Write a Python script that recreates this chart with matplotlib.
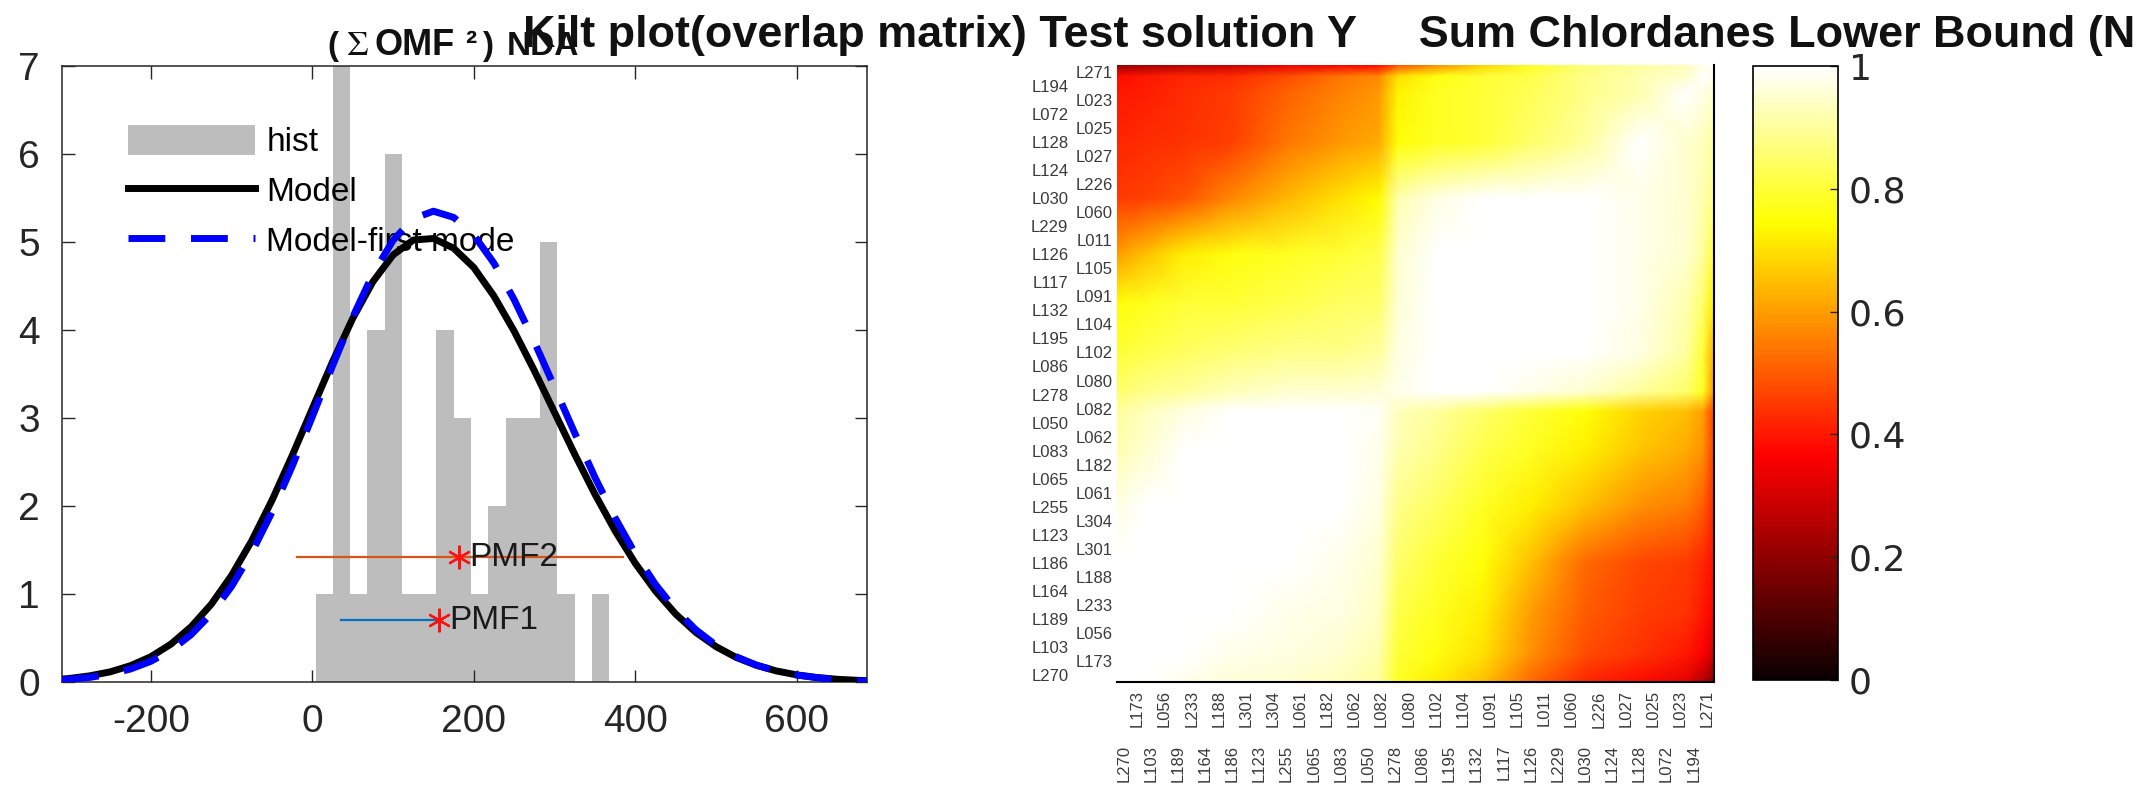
import numpy as np
import matplotlib
matplotlib.use('Agg')
import matplotlib.pyplot as plt
from matplotlib.patches import Patch
from matplotlib.lines import Line2D

plt.rcParams['font.family'] = ['Liberation Sans', 'DejaVu Sans']
plt.rcParams['mathtext.fontset'] = 'stix'
plt.rcParams['axes.unicode_minus'] = False

# ---------------- left panel data ----------------
hist_bin_centers = [14.7, 36.1, 57.5, 78.9, 100.3, 121.7, 143.1, 164.5, 185.9,
                    207.3, 228.7, 250.1, 271.5, 292.9, 314.3, 335.7, 357.1]
hist_bin_width = 21.4
hist_counts = [1, 7, 1, 4, 6, 1, 1, 4, 3, 1, 2, 3, 3, 5, 1, 0, 1]

model_x = [-310, -300, -275, -250, -225, -200, -175, -150, -125, -100, -75, -50,
           -25, 0, 25, 50, 75, 100, 125, 150, 175, 200, 225, 250, 275, 300, 325,
           350, 375, 400, 425, 450, 475, 500, 525, 550, 575, 600, 625, 650, 675, 687]
model_y = [0.033, 0.041, 0.071, 0.116, 0.186, 0.287, 0.431, 0.628, 0.885, 1.211,
           1.605, 2.063, 2.571, 3.106, 3.638, 4.131, 4.548, 4.853, 5.022, 5.04,
           4.93, 4.71, 4.385, 3.987, 3.538, 3.063, 2.588, 2.135, 1.718, 1.349,
           1.034, 0.773, 0.564, 0.402, 0.279, 0.190, 0.125, 0.081, 0.051, 0.031,
           0.019, 0.015]
first_mode_y = [0.024, 0.031, 0.053, 0.090, 0.148, 0.235, 0.361, 0.539, 0.777,
                1.086, 1.471, 1.929, 2.450, 3.014, 3.591, 4.146, 4.635, 5.019,
                5.265, 5.35, 5.28, 5.079, 4.759, 4.345, 3.865, 3.350, 2.829,
                2.327, 1.866, 1.457, 1.109, 0.822, 0.594, 0.418, 0.287, 0.192,
                0.125, 0.079, 0.049, 0.029, 0.017, 0.013]

pmf_names = ['PMF1', 'PMF2']
pmf_center = [157, 182]
pmf_low = [35, -19]
pmf_high = [157, 385]
pmf_level = [0.70, 1.42]
pmf_colors = ['#0072BD', '#D95319']

legend_labels = ['hist', 'Model', 'Model-first mode']

# ---------------- kilt (overlap matrix) data ----------------
sample_labels = ['L270', 'L173', 'L103', 'L056', 'L189', 'L233', 'L164', 'L188',
                 'L186', 'L301', 'L123', 'L304', 'L255', 'L061', 'L065', 'L182',
                 'L083', 'L062', 'L050', 'L082', 'L278', 'L080', 'L086', 'L102',
                 'L195', 'L104', 'L132', 'L091', 'L117', 'L105', 'L126', 'L011',
                 'L229', 'L060', 'L030', 'L226', 'L124', 'L027', 'L128', 'L025',
                 'L072', 'L023', 'L194', 'L271']

# overlap values read at grid nodes (sample-index coordinates), same nodes on both axes
overlap_nodes = [-0.5, 1.5, 4.5, 8, 12, 16, 18.8, 20.2, 23, 26.5, 30, 34, 38, 41.5, 42.7, 43.5]
# rows listed from the top node (43.5) down to the bottom node (-0.5)
overlap_values = [
    [0.20, 0.22, 0.25, 0.28, 0.33, 0.35, 0.37, 0.48, 0.57, 0.68, 0.78, 0.86, 0.90, 0.93, 0.97, 1.00],
    [0.38, 0.40, 0.42, 0.43, 0.48, 0.54, 0.57, 0.70, 0.76, 0.80, 0.82, 0.88, 0.92, 0.95, 1.00, 0.97],
    [0.40, 0.41, 0.43, 0.45, 0.51, 0.56, 0.59, 0.73, 0.78, 0.80, 0.83, 0.88, 0.92, 1.00, 0.97, 0.95],
    [0.42, 0.43, 0.44, 0.46, 0.54, 0.59, 0.62, 0.75, 0.78, 0.80, 0.85, 0.90, 1.00, 0.95, 0.93, 0.90],
    [0.45, 0.46, 0.49, 0.57, 0.64, 0.70, 0.74, 0.92, 0.97, 1.00, 1.00, 1.00, 0.98, 0.95, 0.92, 0.88],
    [0.60, 0.65, 0.72, 0.76, 0.78, 0.80, 0.82, 0.95, 1.00, 1.00, 1.00, 1.00, 0.98, 0.95, 0.90, 0.80],
    [0.75, 0.77, 0.80, 0.80, 0.82, 0.84, 0.85, 0.96, 1.00, 1.00, 1.00, 1.00, 0.98, 0.92, 0.85, 0.72],
    [0.80, 0.82, 0.84, 0.86, 0.88, 0.88, 0.90, 0.97, 1.00, 1.00, 1.00, 1.00, 0.97, 0.90, 0.80, 0.62],
    [0.85, 0.88, 0.90, 0.93, 0.95, 0.95, 0.96, 0.98, 1.00, 1.00, 0.98, 0.95, 0.90, 0.85, 0.78, 0.58],
    [0.90, 0.93, 0.97, 1.00, 1.00, 1.00, 0.99, 0.93, 0.90, 0.85, 0.80, 0.75, 0.68, 0.65, 0.60, 0.45],
    [0.92, 0.95, 1.00, 1.00, 1.00, 1.00, 0.98, 0.92, 0.88, 0.82, 0.78, 0.72, 0.66, 0.62, 0.58, 0.45],
    [0.97, 1.00, 1.00, 1.00, 1.00, 1.00, 0.97, 0.88, 0.84, 0.78, 0.72, 0.65, 0.58, 0.55, 0.50, 0.42],
    [1.00, 1.00, 1.00, 1.00, 1.00, 0.98, 0.95, 0.85, 0.80, 0.75, 0.65, 0.52, 0.47, 0.45, 0.42, 0.38],
    [1.00, 1.00, 1.00, 1.00, 0.98, 0.97, 0.94, 0.82, 0.78, 0.72, 0.60, 0.50, 0.46, 0.44, 0.40, 0.36],
    [1.00, 1.00, 1.00, 0.98, 0.97, 0.95, 0.92, 0.80, 0.76, 0.70, 0.58, 0.48, 0.44, 0.40, 0.36, 0.30],
    [1.00, 1.00, 0.98, 0.96, 0.95, 0.93, 0.90, 0.78, 0.72, 0.65, 0.52, 0.42, 0.38, 0.33, 0.25, 0.18],
]
cbar_ticks = [0, 0.2, 0.4, 0.6, 0.8, 1]
cbar_ticklabels = ['0', '0.2', '0.4', '0.6', '0.8', '1']

title_right = 'Kilt plot(overlap matrix) Test solution Y     Sum Chlordanes Lower Bound (N'

# ---------------- figure ----------------
W, H = 2145, 798
fig = plt.figure(figsize=(W / 100, H / 100), dpi=100)


def px_axes(l, t, r, b):
    return fig.add_axes([l / W, 1 - b / H, (r - l) / W, (b - t) / H])


ax1 = px_axes(62, 66, 867, 682)
ink = '#262626'
ax1.bar(hist_bin_centers, hist_counts, width=hist_bin_width, color='#bdbdbd',
        linewidth=0, zorder=1)
ax1.plot(model_x, model_y, color='black', lw=5, zorder=3, solid_capstyle='butt')
ax1.plot(model_x, first_mode_y, color='#0000ff', lw=5, dashes=(5.3, 3.7), zorder=4)
for name, c, lo, hi, lev, col in zip(pmf_names, pmf_center, pmf_low, pmf_high,
                                     pmf_level, pmf_colors):
    ax1.plot([lo, hi], [lev, lev], color=col, lw=1.6, zorder=5)
    ax1.plot([c], [lev], marker=(6, 2, 0), color='#ff1010', ms=17, mew=1.6,
             zorder=6, linestyle='none')
    ax1.annotate(name, (c, lev), xytext=(7, 0), textcoords='offset points',
                 va='center', ha='left', fontsize=24, color='#1a1a1a', zorder=7)

ax1.set_xlim(-310, 687)
ax1.set_ylim(0, 7)
ax1.set_xticks([-200, 0, 200, 400, 600])
ax1.set_yticks(range(8))
ax1.tick_params(direction='in', length=9, width=1, top=True, right=True,
                labelsize=28, colors=ink, pad=16)
for s in ax1.spines.values():
    s.set_color(ink)
    s.set_linewidth(1.1)

handles = [Patch(facecolor='#bdbdbd', edgecolor='none'),
           Line2D([], [], color='black', lw=5),
           Line2D([], [], color='#0000ff', lw=5, dashes=(5.3, 3.7))]
leg = ax1.legend(handles, legend_labels, loc='upper left',
                 bbox_to_anchor=(0.082, 0.905), frameon=False, fontsize=24,
                 handlelength=3.8, handleheight=1.05, handletextpad=0.35,
                 labelspacing=0.48, borderaxespad=0, borderpad=0)
leg.set_zorder(2)

# ---------------- kilt plot ----------------
n = len(sample_labels)
Z = np.array(overlap_values)[::-1]
ax2 = px_axes(1117, 65, 1714, 682)
mesh = ax2.pcolormesh(overlap_nodes, overlap_nodes, Z, shading='gouraud',
                      cmap='hot', vmin=0, vmax=1)
ax2.set_xlim(-0.5, n - 0.5)
ax2.set_ylim(-0.5, n - 0.5)
pos = np.arange(n)
ax2.set_yticks(pos[0::2])
ax2.set_yticklabels(sample_labels[0::2])
ax2.set_yticks(pos[1::2], minor=True)
ax2.set_yticklabels(sample_labels[1::2], minor=True)
ax2.set_xticks(pos[0::2])
ax2.set_xticklabels(sample_labels[0::2], rotation=90)
ax2.set_xticks(pos[1::2], minor=True)
ax2.set_xticklabels(sample_labels[1::2], minor=True, rotation=90)
lab_col = '#3a3a3a'
ax2.tick_params(axis='y', which='major', length=0, pad=35, labelsize=12,
                labelcolor=lab_col)
ax2.tick_params(axis='y', which='minor', length=0, pad=3, labelsize=12,
                labelcolor=lab_col)
ax2.tick_params(axis='x', which='major', length=0, pad=45, labelsize=12,
                labelcolor=lab_col)
ax2.tick_params(axis='x', which='minor', length=0, pad=6, labelsize=12,
                labelcolor=lab_col)
ax2.spines['left'].set_visible(False)
ax2.spines['top'].set_visible(False)
ax2.spines['right'].set_color('black')
ax2.spines['bottom'].set_color('black')
ax2.spines['right'].set_linewidth(1.5)
ax2.spines['bottom'].set_linewidth(1.5)

cax = px_axes(1753, 66, 1838, 680)
cb = fig.colorbar(mesh, cax=cax, ticks=cbar_ticks)
cb.ax.set_yticklabels(cbar_ticklabels)
cax.tick_params(direction='in', length=6, width=1, labelsize=26, pad=8,
                colors=ink)
for t in cax.get_yticklabels():
    t.set_family('DejaVu Sans')
cb.outline.set_edgecolor('black')
cb.outline.set_linewidth(1.2)

# ---------------- titles ----------------
title_parts = [('(', 327, 24), ('$\\Sigma$', 346, 25), ('OMF', 375, 26),
               ('²', 465, 24), (')', 482, 24), ('NDA', 507, 24)]
for txt, xp, fs in title_parts:
    fig.text(xp / W, 1 - 55 / H, txt, fontsize=fs, fontweight='bold',
             ha='left', va='baseline', color='#111111')
fig.text(523 / W, 1 - 47 / H, title_right, fontsize=32.4, fontweight='bold',
         ha='left', va='baseline', color='#111111')

fig.savefig('out.png', dpi=100, facecolor='white')
